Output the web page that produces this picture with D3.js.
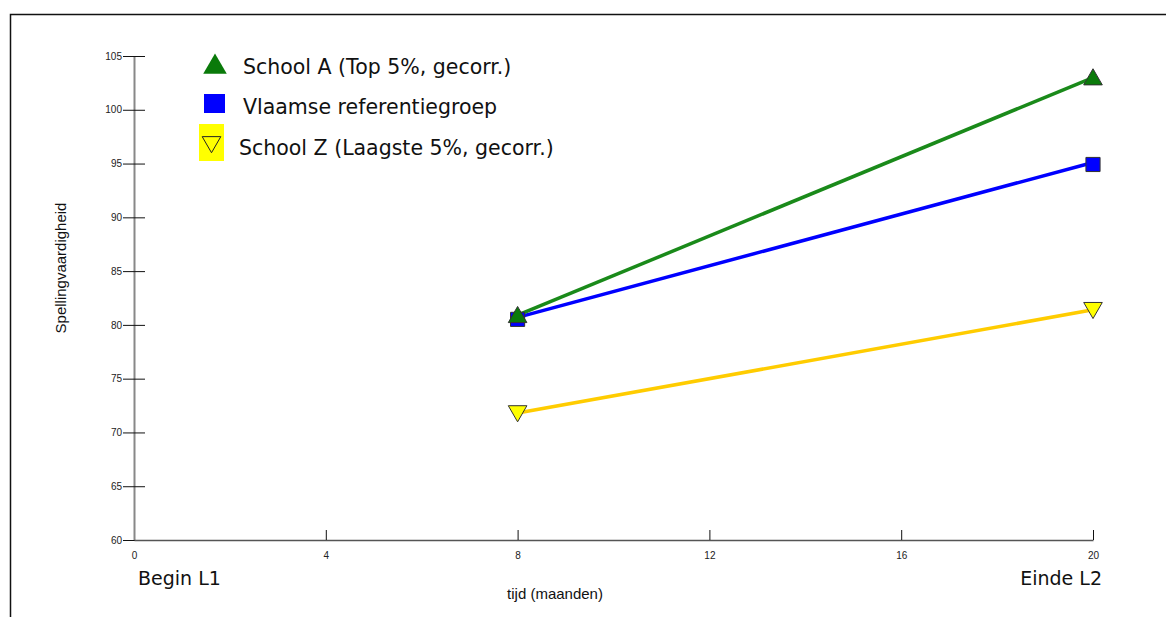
<!DOCTYPE html>
<html><head><meta charset="utf-8">
<script src="https://cdn.jsdelivr.net/npm/d3@7"></script>
<style>body{margin:0;background:#fff;}svg{display:block;}</style>
</head><body>
<svg id="c" width="1166" height="617"></svg>
<script>
const xTicks = [0, 4, 8, 12, 16, 20];
const yTicks = [60, 65, 70, 75, 80, 85, 90, 95, 100, 105];
const months = [8, 20];
const schoolA = [80.9, 103.0];
const vlaams = [80.7, 95.1];
const schoolZ = [71.8, 81.4];
const seriesNames = ["School A (Top 5%, gecorr.)", "Vlaamse referentiegroep", "School Z (Laagste 5%, gecorr.)"];
const xLabels = ["Begin L1", "Einde L2"];

const svg = d3.select("#c");
const x = d3.scaleLinear().domain([0, 20]).range([134, 1093]);
const y = d3.scaleLinear().domain([60, 105]).range([540, 56]);

// frame
svg.append("path").attr("d", "M10.5,617 V14.5 H1166").attr("fill", "none").attr("stroke", "#111").attr("stroke-width", 1.5);

// y axis
const ya = svg.append("g").attr("transform", `translate(${x(0)},0)`)
  .call(d3.axisLeft(y).tickValues(yTicks).tickSize(0).tickPadding(12));
ya.select(".domain").attr("stroke", "#888").attr("stroke-width", 2);
ya.selectAll("text").attr("font-family", "Liberation Sans, Arial, sans-serif").attr("font-size", 10).attr("fill", "#222");
ya.selectAll(".tick").append("line").attr("x1", -11).attr("x2", 11).attr("stroke", "#111").attr("stroke-width", 1);

// x axis
const xa = svg.append("g").attr("transform", `translate(0,${y(60)})`)
  .call(d3.axisBottom(x).tickValues(xTicks).tickSize(0).tickPadding(12));
xa.select(".domain").attr("stroke", "#555").attr("stroke-width", 1.5);
xa.selectAll("text").attr("font-family", "Liberation Sans, Arial, sans-serif").attr("font-size", 10).attr("fill", "#222");
xa.selectAll(".tick").filter(d => d !== 0).append("line").attr("y1", -10).attr("y2", 0).attr("stroke", "#111").attr("stroke-width", 1);

// axis titles
svg.append("text").attr("transform", "translate(66,268) rotate(-90)").attr("text-anchor", "middle")
  .attr("font-family", "Liberation Sans, Arial, sans-serif").attr("font-size", 15).attr("fill", "#111").text("Spellingvaardigheid");
svg.append("text").attr("x", 555).attr("y", 599).attr("text-anchor", "middle")
  .attr("font-family", "Liberation Sans, Arial, sans-serif").attr("font-size", 15).attr("fill", "#111").text("tijd (maanden)");
svg.append("text").attr("x", 138).attr("y", 585).attr("font-family", "DejaVu Sans, sans-serif").attr("font-size", 19).attr("fill", "#111").text(xLabels[0]);
svg.append("text").attr("x", 1102).attr("y", 585).attr("text-anchor", "end").attr("font-family", "DejaVu Sans, sans-serif").attr("font-size", 19).attr("fill", "#111").text(xLabels[1]);

// lines
const line = d3.line().x((d, i) => x(months[i])).y(d => y(d));
const series = [
  {vals: schoolA, color: "#1a8a1a", fill: "#0a7a0a", sym: d3.symbolTriangle, rot: 0},
  {vals: vlaams, color: "#0000ff", fill: "#0000ff", sym: d3.symbolSquare, rot: 0},
  {vals: schoolZ, color: "#ffcc00", fill: "#ffff00", sym: d3.symbolTriangle, rot: 180}
];
[2, 1, 0].forEach(k => {
  svg.append("path").datum(series[k].vals).attr("d", line).attr("fill", "none")
    .attr("stroke", series[k].color).attr("stroke-width", 3.5);
});
[2, 1, 0].forEach(k => {
  const s = series[k];
  svg.selectAll(null).data(s.vals).enter().append("path")
    .attr("d", d3.symbol().type(s.sym).size(s.sym === d3.symbolSquare ? 200 : 150))
    .attr("transform", (d, i) => `translate(${x(months[i])},${y(d) + (s.rot ? -2 : 2)}) rotate(${s.rot})`)
    .attr("fill", s.fill).attr("stroke", "#333").attr("stroke-width", 1);
});

// legend
const lg = svg.append("g");
lg.append("path").attr("d", d3.symbol().type(d3.symbolTriangle).size(240)).attr("transform", "translate(215,67)").attr("fill", "#0a7a0a");
lg.append("rect").attr("x", 204).attr("y", 94).attr("width", 21).attr("height", 19).attr("fill", "#0000ff");
lg.append("rect").attr("x", 199).attr("y", 124).attr("width", 25).attr("height", 37).attr("fill", "#ffff00");
lg.append("path").attr("d", d3.symbol().type(d3.symbolTriangle).size(150)).attr("transform", "translate(211.5,142) rotate(180)").attr("fill", "none").attr("stroke", "#222").attr("stroke-width", 1);
const ly = [74, 114, 155];
const lx = [243, 243, 239];
seriesNames.forEach((n, i) => {
  lg.append("text").attr("x", lx[i]).attr("y", ly[i]).attr("font-family", "DejaVu Sans, sans-serif")
    .attr("font-size", 20.5).attr("fill", "#111").text(n);
});
</script>
</body></html>
